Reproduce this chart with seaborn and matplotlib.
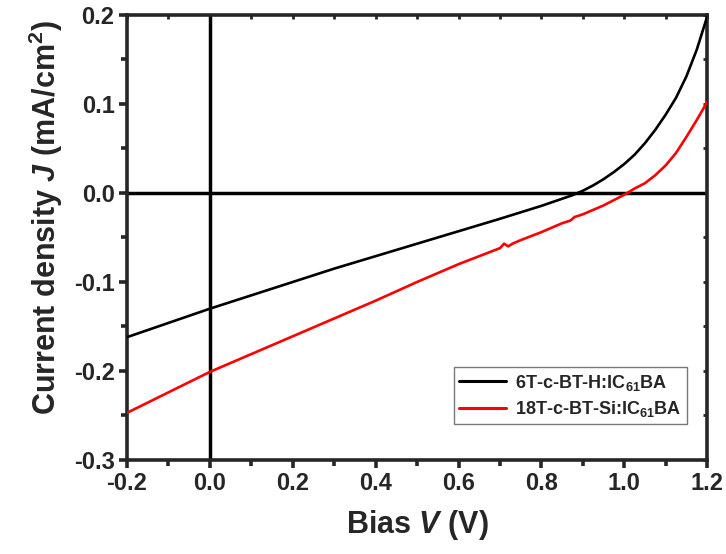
import numpy as np
import pandas as pd
import matplotlib
matplotlib.use("Agg")
import matplotlib.pyplot as plt
from matplotlib.ticker import MultipleLocator
import seaborn as sns

# ---- data ----
v_black = [-0.2, -0.1, 0.0, 0.1, 0.2, 0.3, 0.4, 0.5, 0.6, 0.7, 0.8, 0.85, 0.875, 0.9,
           0.925, 0.95, 0.975, 1.0, 1.025, 1.05, 1.075, 1.1, 1.125, 1.15, 1.175, 1.2]
j_black = [-0.162, -0.146, -0.130, -0.115, -0.100, -0.085, -0.071, -0.057, -0.043,
           -0.029, -0.0145, -0.0065, -0.0025, 0.0025, 0.0085, 0.0155, 0.0235, 0.0325,
           0.043, 0.056, 0.071, 0.088, 0.107, 0.131, 0.161, 0.198]

v_red = [-0.2, -0.1, 0.0, 0.1, 0.2, 0.3, 0.4, 0.5, 0.6, 0.65, 0.7, 0.71, 0.72, 0.73,
         0.75, 0.8, 0.85, 0.87, 0.88, 0.9, 0.95, 1.0, 1.025, 1.05, 1.075,
         1.1, 1.125, 1.15, 1.175, 1.2]
j_red = [-0.247, -0.224, -0.201, -0.181, -0.161, -0.141, -0.121, -0.100, -0.080, -0.071,
         -0.062, -0.057, -0.060, -0.057, -0.053, -0.044, -0.034, -0.031, -0.027, -0.024,
         -0.014, -0.002, 0.005, 0.011, 0.020, 0.031, 0.045, 0.063,
         0.082, 0.102]

series_names = ["6T-c-BT-H:IC$_{61}$BA", "18T-c-BT-Si:IC$_{61}$BA"]
series_colors = ["#000000", "#ff0000"]
x_ticks = [-0.2, 0.0, 0.2, 0.4, 0.6, 0.8, 1.0, 1.2]
y_ticks = [-0.3, -0.2, -0.1, 0.0, 0.1, 0.2]

df = pd.concat([
    pd.DataFrame({"V": v_black, "J": j_black, "s": series_names[0]}),
    pd.DataFrame({"V": v_red, "J": j_red, "s": series_names[1]}),
])

sns.set_style("ticks")
plt.rcParams["font.family"] = ["Liberation Sans", "DejaVu Sans"]
plt.rcParams["font.weight"] = "bold"
plt.rcParams["mathtext.fontset"] = "custom"
plt.rcParams["mathtext.rm"] = "Liberation Sans:bold"
plt.rcParams["mathtext.bf"] = "Liberation Sans:bold"
plt.rcParams["mathtext.it"] = "Liberation Sans:bold:italic"
plt.rcParams["mathtext.sf"] = "Liberation Sans"

fig = plt.figure(figsize=(7.26, 5.54), dpi=100)
ax = fig.add_axes([0.175, 0.1697, 0.799, 0.8033])

ax.axhline(0, color="black", lw=2.5, zorder=1)
ax.axvline(0, color="black", lw=2.5, zorder=1)

sns.lineplot(data=df, x="V", y="J", hue="s", palette=series_colors,
             hue_order=series_names, ax=ax, lw=1.9, sort=True, zorder=3)

ax.set_xlim(-0.2, 1.2)
ax.set_ylim(-0.3, 0.2)
ax.set_xticks(x_ticks)
ax.set_yticks(y_ticks)
ax.set_xticklabels([f"{t:.1f}" for t in x_ticks])
ax.set_yticklabels([f"{t:.1f}" for t in y_ticks])
ax.xaxis.set_minor_locator(MultipleLocator(0.1))
ax.yaxis.set_minor_locator(MultipleLocator(0.05))

for sp in ax.spines.values():
    sp.set_linewidth(2.6)
    sp.set_visible(True)

ax.tick_params(which="major", direction="out", length=6, width=2.6,
               labelsize=17, pad=3)
ax.tick_params(which="minor", direction="out", length=4, width=2.6)
for lab in ax.get_xticklabels() + ax.get_yticklabels():
    lab.set_fontweight("bold")

# inward ticks on top and right
top = ax.secondary_xaxis("top")
top.set_xticks(x_ticks)
top.xaxis.set_minor_locator(MultipleLocator(0.1))
top.tick_params(which="both", direction="in", length=3, width=2, labeltop=False)
top.spines["top"].set_visible(False)
right = ax.secondary_yaxis("right")
right.set_yticks(y_ticks)
right.yaxis.set_minor_locator(MultipleLocator(0.05))
right.tick_params(which="both", direction="in", length=3, width=2, labelright=False)
right.spines["right"].set_visible(False)

ax.set_xlabel("Bias $\\mathit{V}$ (V)", fontsize=22, fontweight="bold", labelpad=9)
ax.set_ylabel("Current density $\\mathit{J}$ $\\mathsf{(}$mA/cm$^{\\mathbf{2}}$$\\mathsf{)}$",
              fontsize=22, fontweight="bold", labelpad=6)
ax.yaxis.label.set_y(0.545)

leg = ax.legend(loc="lower right", bbox_to_anchor=(0.965, 0.08), frameon=True,
                fancybox=False, edgecolor="#555555", fontsize=13,
                handlelength=2.6, borderpad=0.3, labelspacing=0.35,
                handletextpad=0.5, borderaxespad=0)
leg.get_frame().set_linewidth(1.0)
for t in leg.get_texts():
    t.set_fontweight("bold")
for l in leg.get_lines():
    l.set_linewidth(2.2)

fig.savefig("out.png", dpi=100)
